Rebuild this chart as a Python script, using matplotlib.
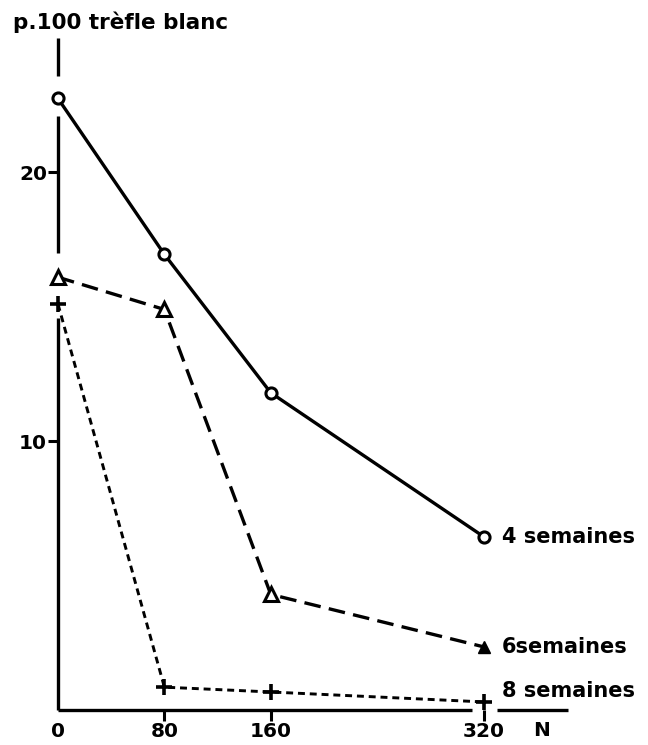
import matplotlib
matplotlib.use("Agg")
import matplotlib.pyplot as plt

plt.rcParams['font.family'] = ['DejaVu Sans']
plt.rcParams['lines.scale_dashes'] = False

# Data
doses_N = [0, 80, 160, 320]
sem4 = [22.75, 16.95, 11.8, 6.45]
sem6 = [16.1, 14.9, 4.3, 2.35]
sem8 = [15.1, 0.85, 0.67, 0.3]
series_labels = ["4 semaines", "6semaines", "8 semaines"]
xtick_labels = ["0", "80", "160", "320"]
ytick_vals = [10, 20]
title = "p.100 trèfle blanc"

W, H = 648, 745
fig = plt.figure(figsize=(W / 100, H / 100), dpi=100)
left_px, right_px, top_px, bot_px = 58, 568, 38, 710
ax = fig.add_axes([left_px / W, (H - bot_px) / H,
                   (right_px - left_px) / W, (bot_px - top_px) / H])
xscale = 1.33
ax.set_xlim(0, (right_px - left_px) / xscale)
ax.set_ylim(0, 25)
for s in ax.spines.values():
    s.set_visible(False)

lw = 2.4
k = 'black'
# axis lines (broken around markers as in the original)
for a, b in [(0, 14.6), (17.0, 22.1), (23.6, 25.0)]:
    ax.plot([0, 0], [a, b], color=k, lw=lw, clip_on=False, solid_capstyle='butt')
xr = (right_px - left_px) / xscale
for a, b in [(0, 311), (330, xr)]:
    ax.plot([a, b], [0, 0], color=k, lw=lw, clip_on=False, solid_capstyle='butt')

# series
ax.plot(doses_N, sem4, color=k, lw=lw, marker='o', ms=8, mfc='white',
        mec=k, mew=2.2, clip_on=False, zorder=3)
l6, = ax.plot(doses_N, sem6, color=k, lw=lw, marker='^', ms=10, mfc='white',
              mec=k, mew=2.2, markevery=[0, 1, 2], clip_on=False, zorder=3)
l6.set_dashes((12, 6))
ax.plot(doses_N[-1:], sem6[-1:], ls='none', marker='^', ms=9, color=k,
        clip_on=False, zorder=3)
l8, = ax.plot(doses_N, sem8, color=k, lw=2.1, marker='+', ms=12, mew=2.6,
              clip_on=False, zorder=3)
l8.set_dashes((5, 3.5))

fs = 15
for vals, lab, dy in zip([sem4, sem6, sem8], series_labels, [0, 0, 8]):
    ax.annotate(lab, xy=(doses_N[-1], vals[-1]), xytext=(13, dy),
                textcoords='offset points', ha='left', va='center',
                fontsize=fs, fontweight='bold', annotation_clip=False)

tfs = 14.5
ax.set_xticks(doses_N)
ax.set_xticklabels(xtick_labels, fontsize=tfs, fontweight='bold')
ax.set_yticks(ytick_vals)
ax.set_yticklabels([str(v) for v in ytick_vals], fontsize=tfs, fontweight='bold')
ax.tick_params(axis='x', direction='out', length=8, width=2.2, pad=0.5)
ax.tick_params(axis='y', direction='out', length=7, width=2.2, pad=1)
ax.xaxis.get_major_ticks()[0].tick1line.set_visible(False)

ax.annotate("N", xy=(doses_N[-1], 0), xytext=(42, -15), textcoords='offset points',
            ha='center', va='center', fontsize=tfs, fontweight='bold',
            annotation_clip=False)

fig.text(13 / W, 1 - 22 / H, title, ha='left', va='center', fontsize=15.5,
         fontweight='bold')

fig.savefig("out.png", dpi=100, facecolor='white')
